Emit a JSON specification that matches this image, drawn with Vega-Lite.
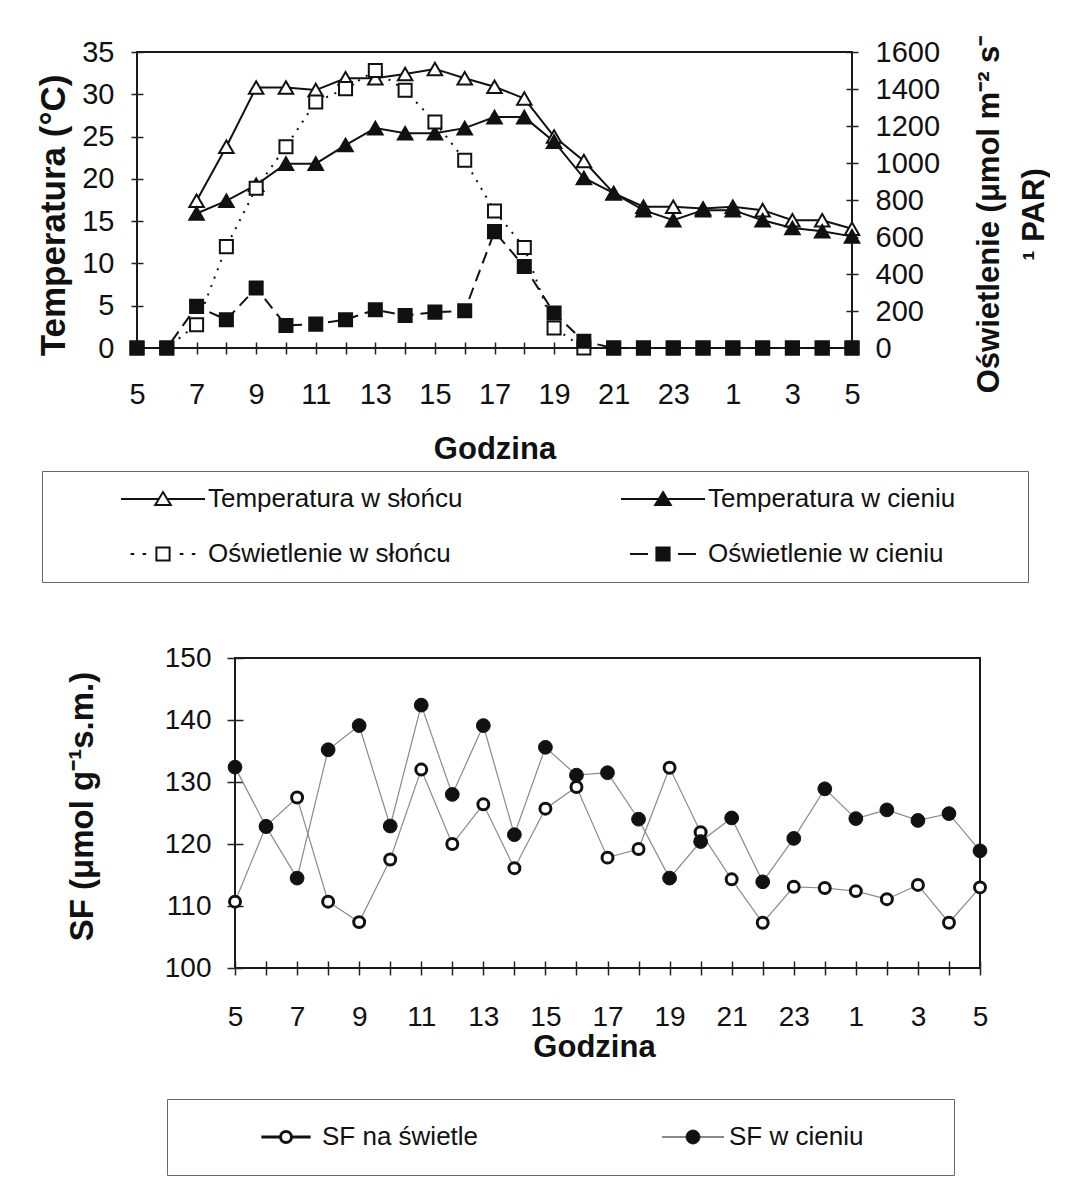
{
  "$schema": "https://vega.github.io/schema/vega-lite/v6.json",
  "background": "white",
  "padding": {"left": 35, "top": 29, "right": 0, "bottom": 0},
  "config": {
    "view": {"stroke": null},
    "font": "Liberation Sans",
    "axis": {
      "labelFont": "Liberation Sans", "labelFontSize": 29, "labelColor": "#111",
      "titleFont": "Liberation Sans", "titleFontSize": 30, "titleFontWeight": "bold", "titleColor": "#111",
      "tickColor": "#222", "tickWidth": 1.5, "domain": false, "grid": false,
      "labelOverlap": false, "labelFlush": false, "labelBound": false
    },
    "legend": {"labelFont": "Liberation Sans", "labelFontSize": 26, "labelColor": "#111", "strokeColor": "#666", "labelLimit": 600}
  },
  "datasets": {
    "gora": [
      {"h":7,"seria":"Temperatura w słońcu","wartosc":17.4},{"h":8,"seria":"Temperatura w słońcu","wartosc":23.8},
      {"h":9,"seria":"Temperatura w słońcu","wartosc":30.8},{"h":10,"seria":"Temperatura w słońcu","wartosc":30.8},
      {"h":11,"seria":"Temperatura w słońcu","wartosc":30.5},{"h":12,"seria":"Temperatura w słońcu","wartosc":31.9},
      {"h":13,"seria":"Temperatura w słońcu","wartosc":31.9},{"h":14,"seria":"Temperatura w słońcu","wartosc":32.4},
      {"h":15,"seria":"Temperatura w słońcu","wartosc":33.0},{"h":16,"seria":"Temperatura w słońcu","wartosc":31.9},
      {"h":17,"seria":"Temperatura w słońcu","wartosc":30.9},{"h":18,"seria":"Temperatura w słońcu","wartosc":29.5},
      {"h":19,"seria":"Temperatura w słońcu","wartosc":25.0},{"h":20,"seria":"Temperatura w słońcu","wartosc":22.1},
      {"h":21,"seria":"Temperatura w słońcu","wartosc":18.3},{"h":22,"seria":"Temperatura w słońcu","wartosc":16.7},
      {"h":23,"seria":"Temperatura w słońcu","wartosc":16.7},{"h":24,"seria":"Temperatura w słońcu","wartosc":16.5},
      {"h":25,"seria":"Temperatura w słońcu","wartosc":16.7},{"h":26,"seria":"Temperatura w słońcu","wartosc":16.3},
      {"h":27,"seria":"Temperatura w słońcu","wartosc":15.1},{"h":28,"seria":"Temperatura w słońcu","wartosc":15.1},
      {"h":29,"seria":"Temperatura w słońcu","wartosc":14.1},
      {"h":7,"seria":"Temperatura w cieniu","wartosc":15.9},{"h":8,"seria":"Temperatura w cieniu","wartosc":17.4},
      {"h":9,"seria":"Temperatura w cieniu","wartosc":19.3},{"h":10,"seria":"Temperatura w cieniu","wartosc":21.8},
      {"h":11,"seria":"Temperatura w cieniu","wartosc":21.8},{"h":12,"seria":"Temperatura w cieniu","wartosc":24.0},
      {"h":13,"seria":"Temperatura w cieniu","wartosc":26.0},{"h":14,"seria":"Temperatura w cieniu","wartosc":25.4},
      {"h":15,"seria":"Temperatura w cieniu","wartosc":25.4},{"h":16,"seria":"Temperatura w cieniu","wartosc":26.0},
      {"h":17,"seria":"Temperatura w cieniu","wartosc":27.3},{"h":18,"seria":"Temperatura w cieniu","wartosc":27.3},
      {"h":19,"seria":"Temperatura w cieniu","wartosc":24.4},{"h":20,"seria":"Temperatura w cieniu","wartosc":20.1},
      {"h":21,"seria":"Temperatura w cieniu","wartosc":18.3},{"h":22,"seria":"Temperatura w cieniu","wartosc":16.3},
      {"h":23,"seria":"Temperatura w cieniu","wartosc":15.1},{"h":24,"seria":"Temperatura w cieniu","wartosc":16.3},
      {"h":25,"seria":"Temperatura w cieniu","wartosc":16.3},{"h":26,"seria":"Temperatura w cieniu","wartosc":15.1},
      {"h":27,"seria":"Temperatura w cieniu","wartosc":14.2},{"h":28,"seria":"Temperatura w cieniu","wartosc":13.8},
      {"h":29,"seria":"Temperatura w cieniu","wartosc":13.2},
      {"h":5,"seria":"Oświetlenie w słońcu","wartosc":0},{"h":6,"seria":"Oświetlenie w słońcu","wartosc":0},
      {"h":7,"seria":"Oświetlenie w słońcu","wartosc":126},{"h":8,"seria":"Oświetlenie w słońcu","wartosc":548},
      {"h":9,"seria":"Oświetlenie w słońcu","wartosc":863},{"h":10,"seria":"Oświetlenie w słońcu","wartosc":1088},
      {"h":11,"seria":"Oświetlenie w słońcu","wartosc":1330},{"h":12,"seria":"Oświetlenie w słońcu","wartosc":1402},
      {"h":13,"seria":"Oświetlenie w słońcu","wartosc":1500},{"h":14,"seria":"Oświetlenie w słońcu","wartosc":1393},
      {"h":15,"seria":"Oświetlenie w słońcu","wartosc":1222},{"h":16,"seria":"Oświetlenie w słońcu","wartosc":1015},
      {"h":17,"seria":"Oświetlenie w słońcu","wartosc":741},{"h":18,"seria":"Oświetlenie w słońcu","wartosc":543},
      {"h":19,"seria":"Oświetlenie w słońcu","wartosc":108},{"h":20,"seria":"Oświetlenie w słońcu","wartosc":0},
      {"h":21,"seria":"Oświetlenie w słońcu","wartosc":0},{"h":22,"seria":"Oświetlenie w słońcu","wartosc":0},
      {"h":23,"seria":"Oświetlenie w słońcu","wartosc":0},{"h":24,"seria":"Oświetlenie w słońcu","wartosc":0},
      {"h":25,"seria":"Oświetlenie w słońcu","wartosc":0},{"h":26,"seria":"Oświetlenie w słońcu","wartosc":0},
      {"h":27,"seria":"Oświetlenie w słońcu","wartosc":0},{"h":28,"seria":"Oświetlenie w słońcu","wartosc":0},
      {"h":29,"seria":"Oświetlenie w słońcu","wartosc":0},
      {"h":5,"seria":"Oświetlenie w cieniu","wartosc":0},{"h":6,"seria":"Oświetlenie w cieniu","wartosc":0},
      {"h":7,"seria":"Oświetlenie w cieniu","wartosc":225},{"h":8,"seria":"Oświetlenie w cieniu","wartosc":153},
      {"h":9,"seria":"Oświetlenie w cieniu","wartosc":324},{"h":10,"seria":"Oświetlenie w cieniu","wartosc":122},
      {"h":11,"seria":"Oświetlenie w cieniu","wartosc":129},{"h":12,"seria":"Oświetlenie w cieniu","wartosc":153},
      {"h":13,"seria":"Oświetlenie w cieniu","wartosc":207},{"h":14,"seria":"Oświetlenie w cieniu","wartosc":176},
      {"h":15,"seria":"Oświetlenie w cieniu","wartosc":194},{"h":16,"seria":"Oświetlenie w cieniu","wartosc":201},
      {"h":17,"seria":"Oświetlenie w cieniu","wartosc":629},{"h":18,"seria":"Oświetlenie w cieniu","wartosc":440},
      {"h":19,"seria":"Oświetlenie w cieniu","wartosc":189},{"h":20,"seria":"Oświetlenie w cieniu","wartosc":36},
      {"h":21,"seria":"Oświetlenie w cieniu","wartosc":0},{"h":22,"seria":"Oświetlenie w cieniu","wartosc":0},
      {"h":23,"seria":"Oświetlenie w cieniu","wartosc":0},{"h":24,"seria":"Oświetlenie w cieniu","wartosc":0},
      {"h":25,"seria":"Oświetlenie w cieniu","wartosc":0},{"h":26,"seria":"Oświetlenie w cieniu","wartosc":0},
      {"h":27,"seria":"Oświetlenie w cieniu","wartosc":0},{"h":28,"seria":"Oświetlenie w cieniu","wartosc":0},
      {"h":29,"seria":"Oświetlenie w cieniu","wartosc":0}
    ],
    "dol": [
      {"h":5,"seria":"SF na świetle","wartosc":110.7},{"h":6,"seria":"SF na świetle","wartosc":122.9},
      {"h":7,"seria":"SF na świetle","wartosc":127.5},{"h":8,"seria":"SF na świetle","wartosc":110.7},
      {"h":9,"seria":"SF na świetle","wartosc":107.4},{"h":10,"seria":"SF na świetle","wartosc":117.5},
      {"h":11,"seria":"SF na świetle","wartosc":132.0},{"h":12,"seria":"SF na świetle","wartosc":120.0},
      {"h":13,"seria":"SF na świetle","wartosc":126.4},{"h":14,"seria":"SF na świetle","wartosc":116.1},
      {"h":15,"seria":"SF na świetle","wartosc":125.7},{"h":16,"seria":"SF na świetle","wartosc":129.2},
      {"h":17,"seria":"SF na świetle","wartosc":117.8},{"h":18,"seria":"SF na świetle","wartosc":119.2},
      {"h":19,"seria":"SF na świetle","wartosc":132.3},{"h":20,"seria":"SF na świetle","wartosc":121.9},
      {"h":21,"seria":"SF na świetle","wartosc":114.3},{"h":22,"seria":"SF na świetle","wartosc":107.3},
      {"h":23,"seria":"SF na świetle","wartosc":113.1},{"h":24,"seria":"SF na świetle","wartosc":112.9},
      {"h":25,"seria":"SF na świetle","wartosc":112.4},{"h":26,"seria":"SF na świetle","wartosc":111.1},
      {"h":27,"seria":"SF na świetle","wartosc":113.4},{"h":28,"seria":"SF na świetle","wartosc":107.3},
      {"h":29,"seria":"SF na świetle","wartosc":113.0},
      {"h":5,"seria":"SF w cieniu","wartosc":132.4},{"h":6,"seria":"SF w cieniu","wartosc":122.8},
      {"h":7,"seria":"SF w cieniu","wartosc":114.5},{"h":8,"seria":"SF w cieniu","wartosc":135.2},
      {"h":9,"seria":"SF w cieniu","wartosc":139.1},{"h":10,"seria":"SF w cieniu","wartosc":122.9},
      {"h":11,"seria":"SF w cieniu","wartosc":142.4},{"h":12,"seria":"SF w cieniu","wartosc":128.0},
      {"h":13,"seria":"SF w cieniu","wartosc":139.1},{"h":14,"seria":"SF w cieniu","wartosc":121.5},
      {"h":15,"seria":"SF w cieniu","wartosc":135.6},{"h":16,"seria":"SF w cieniu","wartosc":131.1},
      {"h":17,"seria":"SF w cieniu","wartosc":131.5},{"h":18,"seria":"SF w cieniu","wartosc":124.0},
      {"h":19,"seria":"SF w cieniu","wartosc":114.5},{"h":20,"seria":"SF w cieniu","wartosc":120.4},
      {"h":21,"seria":"SF w cieniu","wartosc":124.2},{"h":22,"seria":"SF w cieniu","wartosc":113.9},
      {"h":23,"seria":"SF w cieniu","wartosc":120.9},{"h":24,"seria":"SF w cieniu","wartosc":128.9},
      {"h":25,"seria":"SF w cieniu","wartosc":124.1},{"h":26,"seria":"SF w cieniu","wartosc":125.5},
      {"h":27,"seria":"SF w cieniu","wartosc":123.8},{"h":28,"seria":"SF w cieniu","wartosc":124.9},
      {"h":29,"seria":"SF w cieniu","wartosc":118.9}
    ]
  },
  "bounds": "flush",
  "spacing": 310,
  "vconcat": [
    {
      "width": 715,
      "height": 296,
      "view": {"stroke": "#1a1a1a", "strokeWidth": 2},
      "data": {"name": "gora"},
      "encoding": {
        "x": {
          "field": "h", "type": "quantitative",
          "scale": {"domain": [5, 29], "nice": false, "zero": false},
          "axis": {
            "values": [5,6,7,8,9,10,11,12,13,14,15,16,17,18,19,20,21,22,23,24,25,26,27,28,29],
            "labelExpr": "datum.value % 2 == 1 ? '' + (datum.value % 24) : ''",
            "offset": -6, "tickSize": 12, "labelPadding": 26,
            "title": "Godzina", "titleFontSize": 31, "titleX": 357.5, "titleY": 116, "titleBaseline": "alphabetic"
          }
        }
      },
      "layer": [
        {
          "transform": [{"filter": "datum.seria === 'Temperatura w słońcu' || datum.seria === 'Temperatura w cieniu'"}],
          "encoding": {
            "y": {
              "field": "wartosc", "type": "quantitative",
              "scale": {"domain": [0, 35], "nice": false},
              "axis": {
                "values": [0,5,10,15,20,25,30,35],
                "offset": -6, "tickSize": 12, "labelPadding": 17,
                "title": "Temperatura (°C)", "titleFontSize": 35, "titleAngle": 270, "titleAlign": "center",
                "titleBaseline": "alphabetic", "titleX": -79, "titleY": 163
              }
            }
          },
          "layer": [
            {"mark": {"type": "line", "color": "#111", "strokeWidth": 2}, "encoding": {"detail": {"field": "seria"}}},
            {
              "mark": {"type": "point", "shape": "triangle-up", "filled": true, "stroke": "#111", "strokeWidth": 2, "size": 210, "opacity": 1},
              "encoding": {
                "fill": {"field": "seria", "type": "nominal",
                  "scale": {"domain": ["Temperatura w słońcu","Temperatura w cieniu","Oświetlenie w słońcu","Oświetlenie w cieniu"], "range": ["#ffffff","#111111","#ffffff","#111111"]},
                  "legend": {
                    "orient": "none", "legendX": -95, "legendY": 419, "columns": 2, "direction": "horizontal", "title": null,
                    "padding": 15, "rowPadding": 29, "columnPadding": 94,
                    "symbolSize": 144, "symbolOffset": 93, "labelOffset": 32,
                    "symbolStrokeWidth": 2, "symbolOpacity": 1, "labelFontSize": 26,
                    "labelExpr": "datum.value === 'Temperatura w cieniu' || datum.value === 'Oświetlenie w cieniu' ? datum.label + '\u00a0\u00a0\u00a0\u00a0\u00a0\u00a0\u00a0\u00a0\u200b' : datum.label"
                  }}
              }
            }
          ]
        },
        {
          "transform": [{"filter": "datum.seria === 'Oświetlenie w słońcu' || datum.seria === 'Oświetlenie w cieniu'"}],
          "encoding": {
            "y": {
              "field": "wartosc", "type": "quantitative",
              "scale": {"domain": [0, 1600], "nice": false},
              "axis": {
                "orient": "right", "format": "d",
                "values": [0,200,400,600,800,1000,1200,1400,1600],
                "offset": -6, "tickSize": 12, "labelPadding": 17,
                "title": ["Oświetlenie  (μmol m⁻² s⁻", "¹ PAR)"], "titleFontSize": 31, "titleAngle": 270, "titleAlign": "center",
                "titleBaseline": "alphabetic", "titleLineHeight": 45, "titleX": 152, "titleY": 162
              }
            }
          },
          "layer": [
            {
              "mark": {"type": "line", "color": "#111", "strokeWidth": 2},
              "encoding": {"strokeDash": {"field": "seria", "type": "nominal", "legend": null,
                "scale": {"domain": ["Oświetlenie w słońcu","Oświetlenie w cieniu"], "range": [[2,7],[12,7]]}}}
            },
            {
              "mark": {"type": "point", "shape": "square", "filled": true, "stroke": "#111", "strokeWidth": 2, "size": 170, "opacity": 1},
              "encoding": {
                "fill": {"field": "seria", "type": "nominal",
                  "scale": {"domain": ["Temperatura w słońcu","Temperatura w cieniu","Oświetlenie w słońcu","Oświetlenie w cieniu"], "range": ["#ffffff","#111111","#ffffff","#111111"]},
                  "legend": {
                    "orient": "none", "legendX": -95, "legendY": 419, "columns": 2, "direction": "horizontal", "title": null,
                    "padding": 15, "rowPadding": 29, "columnPadding": 94,
                    "symbolSize": 144, "symbolOffset": 93, "labelOffset": 32,
                    "symbolStrokeWidth": 2, "symbolOpacity": 1, "labelFontSize": 26,
                    "labelExpr": "datum.value === 'Temperatura w cieniu' || datum.value === 'Oświetlenie w cieniu' ? datum.label + '\u00a0\u00a0\u00a0\u00a0\u00a0\u00a0\u00a0\u00a0\u200b' : datum.label"
                  }}
              }
            }
          ]
        },
        {
          "transform": [{"filter": "false"}],
          "mark": {"type": "point", "filled": true, "strokeWidth": 2, "opacity": 1},
          "encoding": {
            "shape": {"field": "seria", "type": "nominal",
              "scale": {
                "domain": ["Temperatura w słońcu","Temperatura w cieniu","Oświetlenie w słońcu","Oświetlenie w cieniu"],
                "range": [
                  "M-7,0H-0.75M0.75,0H7M0,-1.15L1.3,1L-1.3,1Z",
                  "M-7,0H-0.75M0.75,0H7M0,-1.15L1.3,1L-1.3,1Z",
                  "M-5.4,0h0.6M-3.4,0h0.6M2.8,0h0.6M4.8,0h0.6M-1.1,-1.1H1.1V1.1H-1.1Z",
                  "M-5.5,0H-2.5M2.5,0H5.5M-1.1,-1.1H1.1V1.1H-1.1Z"
                ]
              },
              "legend": {
                "orient": "none", "legendX": -95, "legendY": 419, "columns": 2, "direction": "horizontal", "title": null,
                "padding": 15, "rowPadding": 29, "columnPadding": 94,
                "symbolSize": 144, "symbolOffset": 93, "labelOffset": 32,
                "symbolStrokeWidth": 2, "symbolOpacity": 1, "labelFontSize": 26,
                "labelExpr": "datum.value === 'Temperatura w cieniu' || datum.value === 'Oświetlenie w cieniu' ? datum.label + '\u00a0\u00a0\u00a0\u00a0\u00a0\u00a0\u00a0\u00a0\u200b' : datum.label"
              }
            },
            "stroke": {"field": "seria", "type": "nominal",
              "scale": {"domain": ["Temperatura w słońcu","Temperatura w cieniu","Oświetlenie w słońcu","Oświetlenie w cieniu"], "range": ["#111111","#111111","#111111","#111111"]},
              "legend": {
                "orient": "none", "legendX": -95, "legendY": 419, "columns": 2, "direction": "horizontal", "title": null,
                "padding": 15, "rowPadding": 29, "columnPadding": 94,
                "symbolSize": 144, "symbolOffset": 93, "labelOffset": 32,
                "symbolStrokeWidth": 2, "symbolOpacity": 1, "labelFontSize": 26,
                "labelExpr": "datum.value === 'Temperatura w cieniu' || datum.value === 'Oświetlenie w cieniu' ? datum.label + '\u00a0\u00a0\u00a0\u00a0\u00a0\u00a0\u00a0\u00a0\u200b' : datum.label"
              }
            },
            "fill": {"field": "seria", "type": "nominal",
              "scale": {"domain": ["Temperatura w słońcu","Temperatura w cieniu","Oświetlenie w słońcu","Oświetlenie w cieniu"], "range": ["#ffffff","#111111","#ffffff","#111111"]},
              "legend": {
                "orient": "none", "legendX": -95, "legendY": 419, "columns": 2, "direction": "horizontal", "title": null,
                "padding": 15, "rowPadding": 29, "columnPadding": 94,
                "symbolSize": 144, "symbolOffset": 93, "labelOffset": 32,
                "symbolStrokeWidth": 2, "symbolOpacity": 1, "labelFontSize": 26,
                "labelExpr": "datum.value === 'Temperatura w cieniu' || datum.value === 'Oświetlenie w cieniu' ? datum.label + '\u00a0\u00a0\u00a0\u00a0\u00a0\u00a0\u00a0\u00a0\u200b' : datum.label"
              }
            }
          }
        }
      ],
      "resolve": {"scale": {"y": "independent"}}
    },
    {
      "bounds": "flush",
      "spacing": 0,
      "hconcat": [
        {"width": 98, "height": 10, "data": {"values": []}, "mark": "point"},
        {
          "width": 745,
          "height": 310,
          "view": {"stroke": "#1a1a1a", "strokeWidth": 2},
          "data": {"name": "dol"},
          "encoding": {
            "x": {
              "field": "h", "type": "quantitative",
              "scale": {"domain": [5, 29], "nice": false, "zero": false},
              "axis": {
                "values": [5,6,7,8,9,10,11,12,13,14,15,16,17,18,19,20,21,22,23,24,25,26,27,28,29],
                "labelExpr": "datum.value % 2 == 1 ? '' + (datum.value % 24) : ''",
                "offset": -7, "tickSize": 14, "labelPadding": 28, "labelFontSize": 28,
                "title": "Godzina", "titleFontSize": 31, "titleX": 359, "titleY": 95, "titleBaseline": "alphabetic"
              }
            },
            "y": {
              "field": "wartosc", "type": "quantitative",
              "scale": {"domain": [100, 150], "nice": false, "zero": false},
              "axis": {
                "values": [100,110,120,130,140,150],
                "offset": -8, "tickSize": 16, "labelPadding": 16, "labelFontSize": 28,
                "title": "SF  (μmol g⁻¹s.m.)", "titleFontSize": 33, "titleAngle": 270, "titleAlign": "center",
                "titleBaseline": "alphabetic", "titleX": -151, "titleY": 148
              }
            }
          },
          "layer": [
            {"mark": {"type": "line", "color": "#8a8a8a", "strokeWidth": 1.2}, "encoding": {"detail": {"field": "seria"}}},
            {
              "mark": {"type": "point", "shape": "circle", "filled": true, "stroke": "#111", "opacity": 1},
              "encoding": {
                "size": {"field": "seria", "type": "nominal", "legend": null,
                  "scale": {"domain": ["SF na świetle","SF w cieniu"], "range": [120, 190]}},
                "strokeWidth": {"field": "seria", "type": "nominal", "legend": null,
                  "scale": {"domain": ["SF na świetle","SF w cieniu"], "range": [3, 1]}},
                "color": {"field": "seria", "type": "nominal",
                  "scale": {"domain": ["SF na świetle","SF w cieniu"], "range": ["#ffffff","#111111"]},
                  "legend": {
                    "orient": "none", "legendX": 30, "legendY": 1047, "columns": 2, "title": null,
                    "padding": 25, "columnPadding": 120,
                    "symbolSize": 100, "symbolOffset": 81, "labelOffset": 23,
                    "symbolStrokeWidth": 2, "symbolStrokeColor": "#111", "labelFontSize": 26,
                    "labelExpr": "datum.value === 'SF w cieniu' ? datum.label + '\u00a0\u00a0\u00a0\u00a0\u00a0\u00a0\u00a0\u00a0\u00a0\u200b' : datum.label",
                    "symbolType": "M-4.5,0H-1M1,0H4.5M-1,0A1,1,0,1,1,1,0A1,1,0,1,1,-1,0Z"
                  }}
              }
            }
          ]
        }
      ]
    }
  ]
}
